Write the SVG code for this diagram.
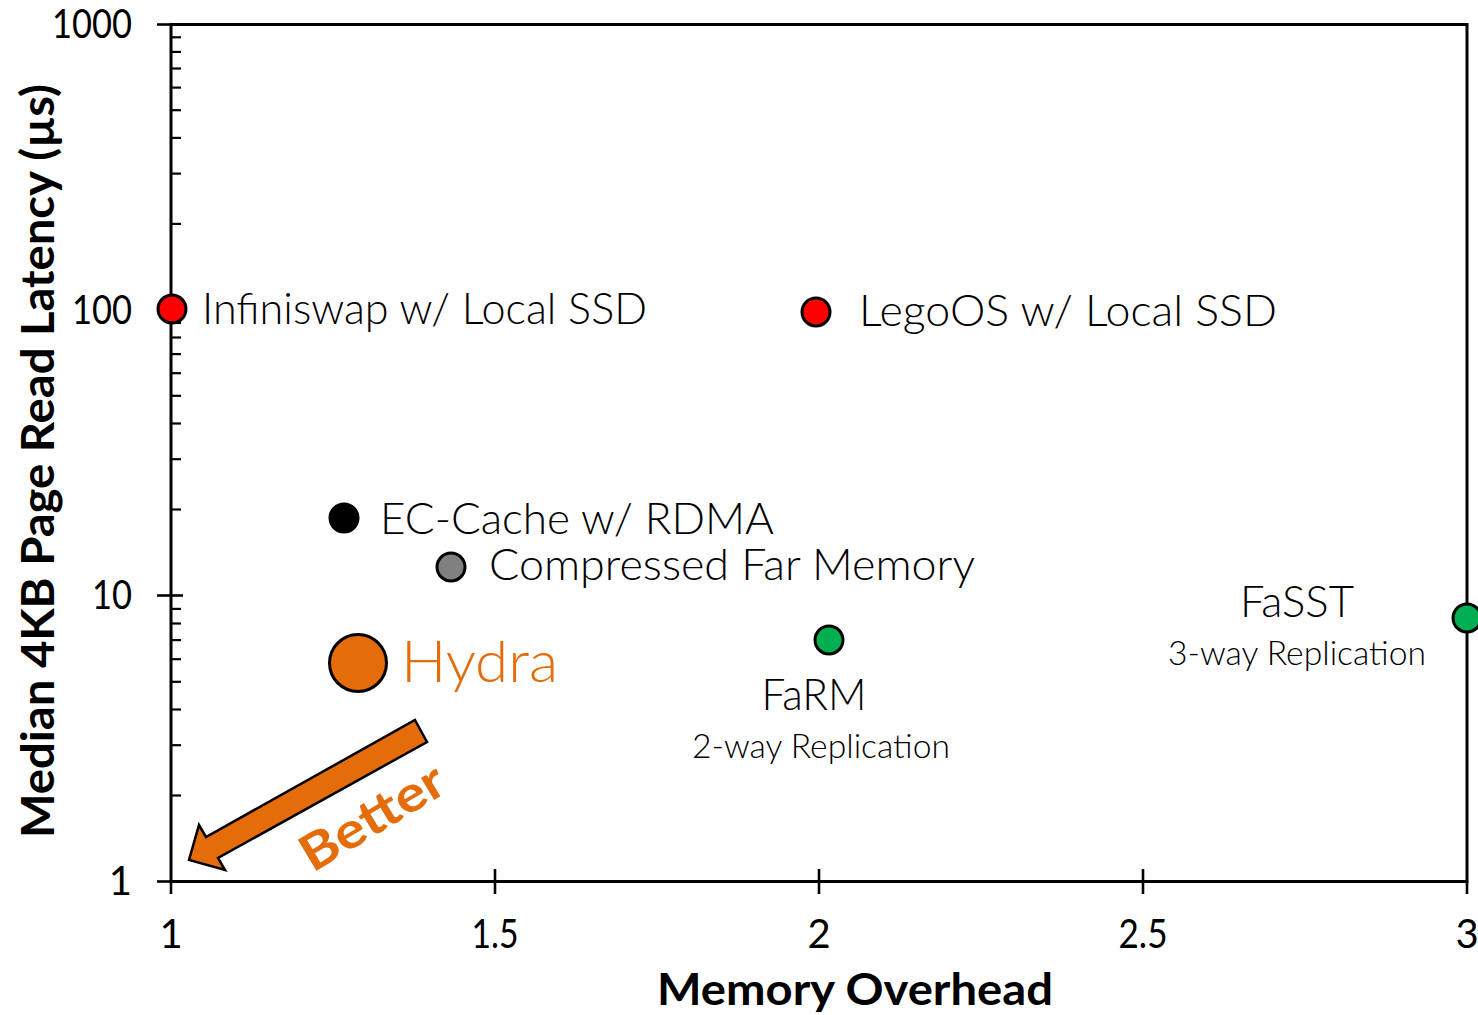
<svg xmlns="http://www.w3.org/2000/svg" width="1478" height="1015" viewBox="0 0 1478 1015">
  <style>
    .lbl { font-family: Lato, "Open Sans", "Liberation Sans", sans-serif; font-weight: 300; fill: #000; }
    .tick { font-family: Lato, "Open Sans", "Liberation Sans", sans-serif; font-weight: 400; font-size: 40px; fill: #000; }
    .title { font-family: Lato, "Open Sans", "Liberation Sans", sans-serif; font-weight: 700; fill: #000; }
    .axis { stroke: #000; stroke-width: 3; fill: none; }
    .minor { stroke: #000; stroke-width: 2.2; }
    .major { stroke: #000; stroke-width: 2.6; }
    .pt { stroke: #000; stroke-width: 3; }
  </style>
  <rect width="1478" height="1015" fill="#fff"/>

  <!-- plot frame -->
  <g id="frame">
    <rect class="axis" x="171" y="24.5" width="1296" height="857"/>
  </g>

  <!-- y axis (log scale, 285.7 px per decade) -->
  <g id="y-ticks">
    <!-- major ticks -->
    <line class="major" x1="157" y1="24.5" x2="171" y2="24.5"/>
    <line class="major" x1="157" y1="310" x2="183" y2="310"/>
    <line class="major" x1="157" y1="595.5" x2="183" y2="595.5"/>
    <line class="major" x1="157" y1="881.5" x2="171" y2="881.5"/>
    <!-- minor ticks: decade 1-10 -->
    <g class="minor">
      <line x1="171" x2="181" y1="795.5" y2="795.5"/>
      <line x1="171" x2="181" y1="745.2" y2="745.2"/>
      <line x1="171" x2="181" y1="709.5" y2="709.5"/>
      <line x1="171" x2="181" y1="681.8" y2="681.8"/>
      <line x1="171" x2="181" y1="659.2" y2="659.2"/>
      <line x1="171" x2="181" y1="640.1" y2="640.1"/>
      <line x1="171" x2="181" y1="623.5" y2="623.5"/>
      <line x1="171" x2="181" y1="608.9" y2="608.9"/>
      <!-- decade 10-100 -->
      <line x1="171" x2="181" y1="509.5" y2="509.5"/>
      <line x1="171" x2="181" y1="459.2" y2="459.2"/>
      <line x1="171" x2="181" y1="423.5" y2="423.5"/>
      <line x1="171" x2="181" y1="395.8" y2="395.8"/>
      <line x1="171" x2="181" y1="373.2" y2="373.2"/>
      <line x1="171" x2="181" y1="354.1" y2="354.1"/>
      <line x1="171" x2="181" y1="337.5" y2="337.5"/>
      <line x1="171" x2="181" y1="322.9" y2="322.9"/>
      <!-- decade 100-1000 -->
      <line x1="171" x2="181" y1="223.9" y2="223.9"/>
      <line x1="171" x2="181" y1="173.6" y2="173.6"/>
      <line x1="171" x2="181" y1="137.9" y2="137.9"/>
      <line x1="171" x2="181" y1="110.2" y2="110.2"/>
      <line x1="171" x2="181" y1="87.6" y2="87.6"/>
      <line x1="171" x2="181" y1="68.5" y2="68.5"/>
      <line x1="171" x2="181" y1="51.9" y2="51.9"/>
      <line x1="171" x2="181" y1="37.3" y2="37.3"/>
    </g>
    <g class="tick" text-anchor="end">
      <text x="132" y="38" textLength="80" lengthAdjust="spacingAndGlyphs">1000</text>
      <text x="132" y="324" textLength="60" lengthAdjust="spacingAndGlyphs">100</text>
      <text x="132" y="609" textLength="40" lengthAdjust="spacingAndGlyphs">10</text>
      <text x="132" y="895">1</text>
    </g>
  </g>

  <!-- x axis -->
  <g id="x-ticks">
    <line class="major" x1="171" y1="881.5" x2="171" y2="894"/>
    <line class="major" x1="495" y1="869" x2="495" y2="894"/>
    <line class="major" x1="819" y1="869" x2="819" y2="894"/>
    <line class="major" x1="1143" y1="869" x2="1143" y2="894"/>
    <line class="major" x1="1467" y1="881.5" x2="1467" y2="894"/>
    <g class="tick" text-anchor="middle">
      <text x="171" y="948">1</text>
      <text x="495" y="948" textLength="47" lengthAdjust="spacingAndGlyphs">1.5</text>
      <text x="819" y="948">2</text>
      <text x="1143" y="948" textLength="49" lengthAdjust="spacingAndGlyphs">2.5</text>
      <text x="1467" y="948">3</text>
    </g>
  </g>

  <!-- axis titles -->
  <g id="axis-titles">
    <text class="title" x="855" y="1005" font-size="44" text-anchor="middle" textLength="396" lengthAdjust="spacingAndGlyphs">Memory Overhead</text>
    <text class="title" transform="translate(54,461) rotate(-90)" font-size="45" text-anchor="middle" textLength="754" lengthAdjust="spacingAndGlyphs">Median 4KB Page Read Latency (µs)</text>
  </g>

  <!-- data points -->
  <g id="infiniswap">
    <circle class="pt" cx="172" cy="309" r="14" fill="#ff0000"/>
    <text class="lbl" x="202" y="324" font-size="44" textLength="445" lengthAdjust="spacingAndGlyphs">Infiniswap w/ Local SSD</text>
  </g>
  <g id="legoos">
    <circle class="pt" cx="816" cy="312" r="14" fill="#ff0000"/>
    <text class="lbl" x="859" y="326" font-size="44" textLength="418" lengthAdjust="spacingAndGlyphs">LegoOS w/ Local SSD</text>
  </g>
  <g id="ec-cache">
    <circle class="pt" cx="344" cy="518" r="14" fill="#000"/>
    <text class="lbl" x="380" y="534" font-size="44" textLength="394" lengthAdjust="spacingAndGlyphs">EC-Cache w/ RDMA</text>
  </g>
  <g id="compressed">
    <circle class="pt" cx="451" cy="567" r="14" fill="#808080"/>
    <text class="lbl" x="489" y="580" font-size="44" textLength="486" lengthAdjust="spacingAndGlyphs">Compressed Far Memory</text>
  </g>
  <g id="hydra">
    <circle class="pt" cx="358" cy="663" r="28.5" fill="#e46c0a"/>
    <text class="lbl" x="401" y="682" font-size="58" font-weight="400" style="fill:#e46c0a" textLength="157" lengthAdjust="spacingAndGlyphs">Hydra</text>
  </g>
  <g id="farm">
    <circle class="pt" cx="829" cy="640" r="14" fill="#00b050"/>
    <text class="lbl" x="814" y="710" font-size="44" text-anchor="middle" textLength="105" lengthAdjust="spacingAndGlyphs">FaRM</text>
    <text class="lbl" x="821" y="758" font-size="34" text-anchor="middle" textLength="258" lengthAdjust="spacingAndGlyphs">2-way Replication</text>
  </g>
  <g id="fasst">
    <circle class="pt" cx="1467" cy="618" r="14" fill="#00b050"/>
    <text class="lbl" x="1297" y="617" font-size="44" text-anchor="middle" textLength="114" lengthAdjust="spacingAndGlyphs">FaSST</text>
    <text class="lbl" x="1297" y="665" font-size="34" text-anchor="middle" textLength="258" lengthAdjust="spacingAndGlyphs">3-way Replication</text>
  </g>

  <!-- direction-of-improvement arrow -->
  <g id="better-arrow">
    <polygon points="415,720 427,742 218,858 225,870 189,860 199,825 206,837" fill="#e46c0a" stroke="#000" stroke-width="2.5" stroke-linejoin="miter"/>
    <text transform="translate(381,832) rotate(-31)" class="title" font-size="50" text-anchor="middle" style="fill:#e46c0a" textLength="160" lengthAdjust="spacingAndGlyphs">Better</text>
  </g>
</svg>
